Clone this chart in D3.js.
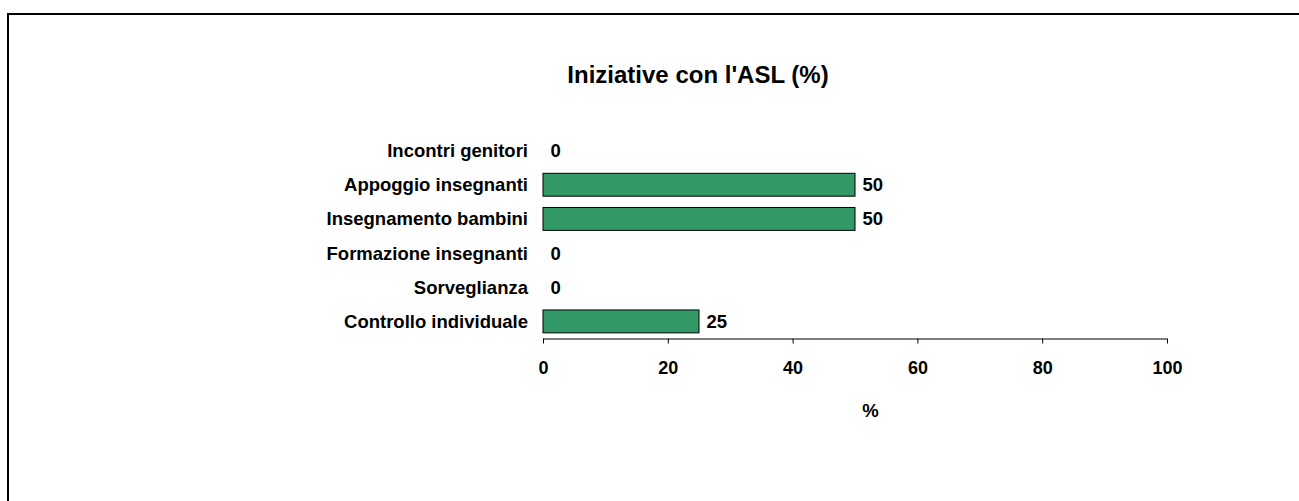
<!DOCTYPE html>
<html>
<head>
<meta charset="utf-8">
<script src="https://cdn.jsdelivr.net/npm/d3@7"></script>
<style>
  body { margin: 0; background: #fff; }
  text { font-family: "Liberation Sans", Arial, sans-serif; font-weight: bold; fill: #000; }
</style>
</head>
<body>
<script>
var categories = ["Incontri genitori", "Appoggio insegnanti", "Insegnamento bambini",
                  "Formazione insegnanti", "Sorveglianza", "Controllo individuale"];
var values = [0, 50, 50, 0, 0, 25];
var xTicks = [0, 20, 40, 60, 80, 100];

function init(){
    var w = 1299, h = 501;
    var left = 543, right = 1167, top = 133.5, bottom = 338.5;

    var rows = categories.map(function(c, i){ return {cat: c, val: values[i]}; });

    var svg = d3.select("body").append("svg")
                .attr("width", w)
                .attr("height", h);

    // frame (only top and left visible)
    svg.append("path")
        .attr("d", "M8," + h + " L8,14 L1299,14")
        .attr("fill", "none")
        .attr("stroke", "#000")
        .attr("stroke-width", 2);

    var xScale = d3.scaleLinear().domain([0, 100]).range([left, right]);
    var yScale = d3.scaleBand()
                    .domain(categories)
                    .range([top, bottom])
                    .paddingInner(0.33)
                    .paddingOuter(0.165);

    // bars
    svg.selectAll("rect.bar")
        .data(rows.filter(function(d){ return d.val > 0; }))
        .enter()
        .append("rect")
        .attr("x", xScale(0))
        .attr("y", function(d){ return yScale(d.cat); })
        .attr("width", function(d){ return xScale(d.val) - xScale(0); })
        .attr("height", yScale.bandwidth())
        .attr("fill", "#339966")
        .attr("stroke", "#000")
        .attr("stroke-width", 1);

    // value labels
    svg.selectAll("text.val")
        .data(rows)
        .enter()
        .append("text")
        .attr("x", function(d){ return xScale(d.val) + 7.5; })
        .attr("y", function(d){ return yScale(d.cat) + yScale.bandwidth() / 2; })
        .attr("dy", "0.35em")
        .attr("font-size", 18.5)
        .text(function(d){ return d.val; });

    // category labels
    svg.selectAll("text.cat")
        .data(categories)
        .enter()
        .append("text")
        .attr("x", 528)
        .attr("y", function(d){ return yScale(d) + yScale.bandwidth() / 2; })
        .attr("dy", "0.35em")
        .attr("text-anchor", "end")
        .attr("font-size", 18.5)
        .text(function(d){ return d; });

    // x axis
    var xAxis = d3.axisBottom(xScale).tickValues(xTicks).tickSize(5).tickPadding(18);
    var gx = svg.append("g")
        .attr("transform", "translate(0," + bottom + ")")
        .call(xAxis);
    gx.select(".domain").attr("stroke", "#000").attr("d", "M" + left + ",0.5H" + right);
    gx.selectAll(".tick line").attr("stroke", "#000");
    gx.selectAll(".tick text")
        .attr("font-size", 18)
        .attr("font-family", "Liberation Sans, Arial, sans-serif")
        .attr("font-weight", "bold")
        .attr("fill", "#000");

    svg.append("text")
        .attr("x", xScale(52.5))
        .attr("y", 417)
        .attr("text-anchor", "middle")
        .attr("font-size", 18.5)
        .text("%");

    svg.append("text")
        .attr("x", 698)
        .attr("y", 83)
        .attr("text-anchor", "middle")
        .attr("font-size", 24)
        .text("Iniziative con l'ASL (%)");
}
window.onload = init;
</script>
</body>
</html>
